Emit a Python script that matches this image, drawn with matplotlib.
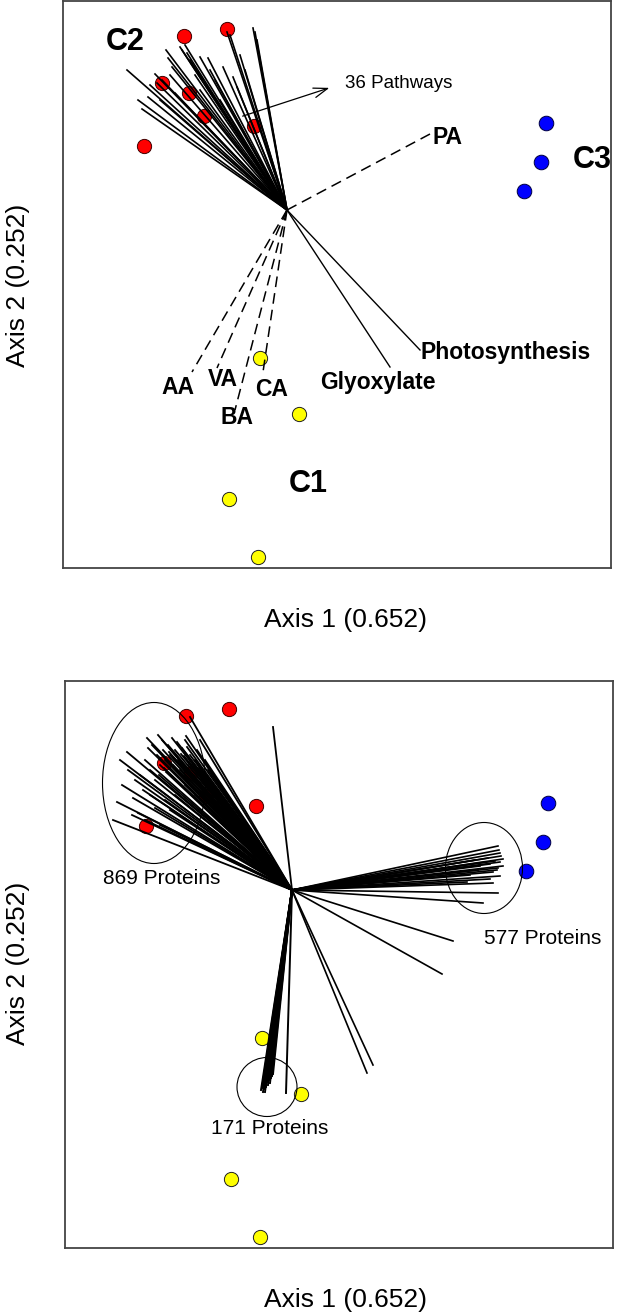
import numpy as np
import matplotlib
matplotlib.use("Agg")
import matplotlib.pyplot as plt
from matplotlib.patches import Ellipse

plt.rcParams['font.family'] = ['Liberation Sans', 'DejaVu Sans']

# sample scores (same in both panels)
red_x = [-1.03, -0.60, -1.25, -0.98, -0.83, -0.33, -1.43]
red_y = [1.74, 1.81, 1.27, 1.17, 0.94, 0.84, 0.64]
blue_x = [2.59, 2.54, 2.37]
blue_y = [0.87, 0.48, 0.19]
yel_x = [-0.27, 0.12, -0.58, -0.29]
yel_y = [-1.48, -2.04, -2.89, -3.47]

# top panel: 36 pathway vectors
path_x = [-1.60, -1.45, -1.39, -1.32, -1.21, -1.19, -1.07, -0.87, -0.79, -0.64,
          -0.60, -0.34, -0.30, -1.00, -1.15, -1.30, -0.54, -0.50, -1.02, -1.25,
          -1.12, -0.97, -0.92, -0.77, -0.72, -0.57, -0.47, -0.42, -1.37, -1.27,
          -1.49, -1.17, -0.87, -0.67, -0.32, -1.05]
path_y = [1.40, 1.01, 1.13, 1.36, 1.60, 1.52, 1.63, 1.53, 1.52, 1.43,
          1.78, 1.82, 1.70, 1.57, 1.43, 1.27, 1.33, 1.23, 1.65, 1.30,
          1.17, 1.50, 1.35, 1.40, 1.30, 1.75, 1.55, 1.40, 1.25, 1.10,
          1.10, 1.35, 1.20, 1.10, 1.78, 1.60]

# top panel: acid vectors (dashed)
acid_names = ['PA', 'AA', 'VA', 'BA', 'CA']
acid_x = [1.43, -0.95, -0.70, -0.52, -0.24]
acid_y = [0.76, -1.62, -1.58, -2.00, -1.62]
acid_lx = [1.45, -1.09, -0.64, -0.50, -0.15]
acid_ly = [0.72, -1.77, -1.70, -2.07, -1.80]

# top panel: solid labelled vectors
sol_names = ['Glyoxylate', 'Photosynthesis']
sol_x = [1.03, 1.33]
sol_y = [-1.57, -1.40]

# bottom panel: protein vectors
p869_x = [-1.76, -1.72, -1.67, -1.62, -1.57, -1.56, -1.51, -1.49, -1.46, -1.44,
          -1.42, -1.39, -1.37, -1.34, -1.32, -1.31, -1.29, -1.27, -1.26, -1.24,
          -1.23, -1.21, -1.19, -1.17, -1.16, -1.14, -1.12, -1.11, -1.09, -1.07,
          -1.05, -1.04, -1.02, -1.01, -0.99, -0.99, -0.97, -0.94, -0.92, -0.90,
          -0.87, -0.84, -0.81, -0.79, -1.14, -1.24, -1.34, -1.39, -1.44, -1.29,
          -1.19, -1.04, -0.94, -1.54, -1.61, -1.69, -1.41, -0.89, -1.03, -0.16,
          -1.20, -1.15, -1.10, -1.25, -1.30, -1.08, -1.00, -0.95]
p869_y = [0.70, 0.88, 1.05, 1.38, 0.75, 0.92, 0.77, 1.15, 1.00, 1.30,
          1.52, 1.20, 1.45, 1.10, 1.35, 1.55, 1.25, 1.50, 1.40, 1.30,
          1.18, 1.45, 1.35, 1.52, 1.25, 1.40, 1.48, 1.30, 1.20, 1.42,
          1.34, 1.50, 1.43, 1.25, 1.73, 1.35, 1.15, 1.30, 1.40, 1.22,
          1.10, 1.30, 1.20, 1.00, 0.95, 0.90, 0.82, 0.95, 0.70, 0.65,
          0.80, 1.05, 0.95, 1.10, 1.20, 1.30, 1.42, 1.50, 1.54, 1.63,
          1.38, 1.32, 1.28, 1.22, 1.15, 1.36, 1.28, 1.24]
p577_x = [2.09, 2.10, 2.11, 2.12, 2.14, 2.11, 2.14, 2.09, 2.08, 2.04,
          2.06, 2.01, 1.99, 1.96, 1.91, 1.89, 2.04, 1.78, 2.09, 1.94,
          2.11, 2.01, 1.81, 1.86, 1.64, 1.53, 0.78, 0.84]
p577_y = [0.44, 0.40, 0.37, 0.34, 0.31, 0.28, 0.24, 0.22, 0.20, 0.18,
          0.29, 0.26, 0.32, 0.28, 0.24, 0.20, 0.07, 0.08, -0.03, -0.13,
          0.14, 0.11, 0.15, 0.30, -0.51, -0.84, -1.83, -1.75]
p171_x = [-0.28, -0.27, -0.26, -0.25, -0.24, -0.23, -0.22, -0.21, -0.20, -0.19,
          -0.18, -0.17, -0.16, -0.25, -0.23, -0.21, -0.26, -0.24, -0.03]
p171_y = [-2.00, -1.98, -1.96, -1.99, -1.94, -1.97, -1.92, -1.95, -1.90, -1.93,
          -1.88, -1.86, -1.84, -1.90, -1.88, -1.85, -2.02, -2.02, -2.03]

groups = ['869 Proteins', '577 Proteins', '171 Proteins']
ell_x = [-1.35, 1.95, -0.22]
ell_y = [1.07, 0.22, -1.97]
ell_w = [1.03, 0.77, 0.60]
ell_h = [1.61, 0.91, 0.59]
grp_lx = [-1.27, 2.54, -0.19]
grp_ly = [0.11, -0.49, -2.38]

xlim = (-2.24, 3.24)
ylim = (-3.58, 2.09)

fig = plt.figure(figsize=(6.32, 13.13), dpi=100)
ax1 = fig.add_axes([63 / 632, 1 - 568 / 1313, 548 / 632, 567 / 1313])
ax2 = fig.add_axes([65 / 632, 1 - 1248 / 1313, 548 / 632, 567 / 1313])


def samples(ax):
    ax.scatter(red_x, red_y, s=105, color='#ff0000', edgecolor='#400000', linewidth=0.7, zorder=2)
    ax.scatter(blue_x, blue_y, s=110, color='#0000ff', edgecolor='#000040', linewidth=0.7, zorder=2)
    ax.scatter(yel_x, yel_y, s=105, color='#ffff00', edgecolor='#202020', linewidth=0.7, zorder=2)


def frame(ax):
    ax.set_xlim(*xlim)
    ax.set_ylim(*ylim)
    ax.set_xticks([])
    ax.set_yticks([])
    for sp in ax.spines.values():
        sp.set_color('#444444')
        sp.set_linewidth(1.3)


# ---- top panel
samples(ax1)
for x, y in zip(path_x, path_y):
    ax1.plot([0, x], [0, y], color='black', lw=1.2, zorder=3)
for x, y in zip(acid_x, acid_y):
    ax1.plot([0, x], [0, y], color='black', lw=1.1, ls=(0, (7, 4)), zorder=3)
for x, y in zip(sol_x, sol_y):
    ax1.plot([0, x], [0, y], color='black', lw=1.0, zorder=3)
for n, x, y in zip(acid_names, acid_lx, acid_ly):
    ax1.text(x, y, n, fontsize=16.5, fontweight='bold',
             ha='left' if n == 'PA' else 'center', va='center')
ax1.text(0.91, -1.72, 'Glyoxylate', fontsize=16.5, fontweight='bold', ha='center', va='center')
ax1.text(1.34, -1.42, 'Photosynthesis', fontsize=16.5, fontweight='bold', ha='left', va='center')
ax1.text(-1.62, 1.68, 'C2', fontsize=22, fontweight='bold', ha='center', va='center')
ax1.text(3.05, 0.50, 'C3', fontsize=22, fontweight='bold', ha='center', va='center')
ax1.text(0.21, -2.74, 'C1', fontsize=22, fontweight='bold', ha='center', va='center')
ax1.annotate('', xy=(0.45, 1.23), xytext=(-0.47, 0.93),
             arrowprops=dict(arrowstyle='->,head_length=1.0,head_width=0.35', color='black', lw=0.9))
ax1.text(0.58, 1.27, '36 Pathways', fontsize=13.5, ha='left', va='center')
frame(ax1)

# ---- bottom panel
samples(ax2)
o2 = (0.03, 0.0)
for xs, ys, lw in [(p869_x, p869_y, 1.3), (p577_x, p577_y, 1.2), (p171_x, p171_y, 1.4)]:
    for x, y in zip(xs, ys):
        ax2.plot([o2[0], x], [o2[1], y], color='black', lw=lw, zorder=3)
for g, cx, cy, w, h, lx, ly in zip(groups, ell_x, ell_y, ell_w, ell_h, grp_lx, grp_ly):
    ax2.add_patch(Ellipse((cx, cy), w, h, fill=False, edgecolor='black', lw=0.8, zorder=4))
    ax2.text(lx, ly, g, fontsize=15, ha='center', va='center')
frame(ax2)

for yy in [620, 1300]:
    fig.text(345 / 632, 1 - yy / 1313, 'Axis 1 (0.652)', fontsize=19, ha='center', va='center')
for yy in [285, 963]:
    fig.text(18 / 632, 1 - yy / 1313, 'Axis 2 (0.252)', fontsize=19, ha='center', va='center', rotation=90)

fig.savefig('out.png', dpi=100)
